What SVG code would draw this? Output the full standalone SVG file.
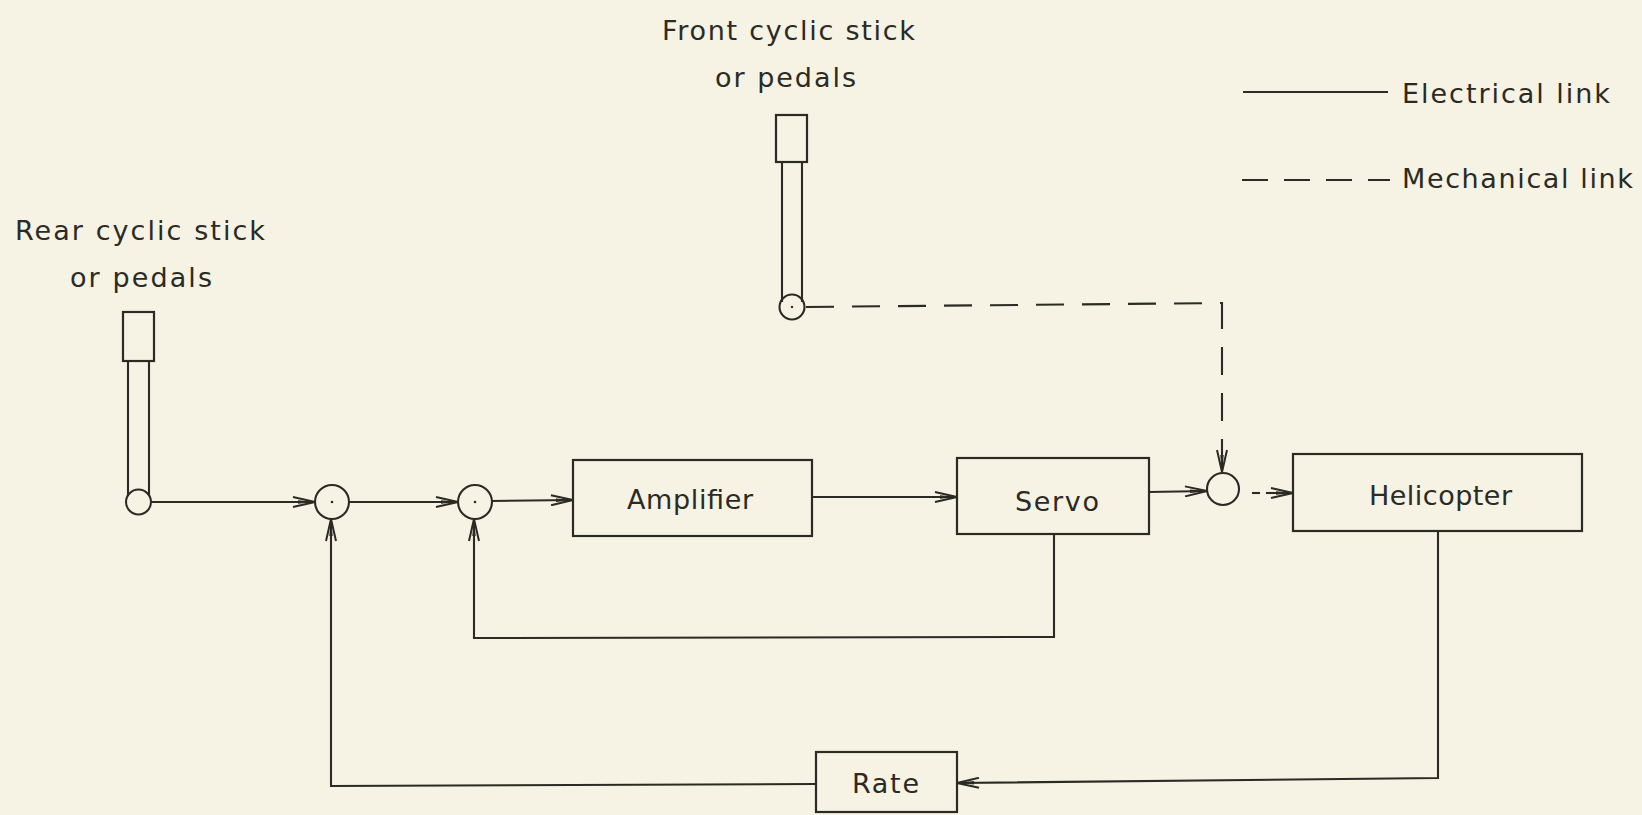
<svg xmlns="http://www.w3.org/2000/svg" width="1642" height="815" viewBox="0 0 1642 815">
<defs>
<style>
.ln{stroke:#2b2a24;stroke-width:2.1;fill:none}
.dash{stroke-dasharray:28 18}
.box{fill:none;stroke:#2b2a24;stroke-width:2.2}
.dot{fill:#2b2a24}
text{font-family:"DejaVu Sans","Liberation Sans",Arial,sans-serif;font-size:27px;fill:#2b2a24}
</style>
<marker id="arr" viewBox="0 0 24 12" refX="23" refY="6" markerWidth="24" markerHeight="12" orient="auto" markerUnits="userSpaceOnUse">
<path d="M1,1 L23,6 L1,11" fill="none" stroke="#2b2a24" stroke-width="2"/>
<path d="M6,4.3 L23,6 L6,7.7 Z" fill="#2b2a24"/>
</marker>
</defs>
<rect width="1642" height="815" fill="#f6f3e4"/>

<g id="legend">
<line class="ln" x1="1243" y1="92" x2="1388" y2="92"/>
<text x="1402" y="103" textLength="208" lengthAdjust="spacing">Electrical link</text>
<line class="ln" x1="1242" y1="180" x2="1390" y2="180" stroke-dasharray="26 16"/>
<text x="1402" y="188" textLength="231" lengthAdjust="spacing">Mechanical link</text>
</g>

<g id="rear-stick">
<text x="15" y="240" textLength="250" lengthAdjust="spacing">Rear cyclic stick</text>
<text x="70" y="287" textLength="142" lengthAdjust="spacing">or pedals</text>
<rect class="box" x="123" y="312" width="31" height="49"/>
<line class="ln" x1="128" y1="361" x2="128" y2="496"/>
<line class="ln" x1="149" y1="361" x2="149" y2="496"/>
<circle class="ln" cx="138.5" cy="502" r="12.5" fill="#f6f3e4"/>
</g>

<g id="front-stick">
<text x="662" y="40" textLength="253" lengthAdjust="spacing">Front cyclic stick</text>
<text x="715" y="87" textLength="141" lengthAdjust="spacing">or pedals</text>
<rect class="box" x="776" y="115" width="31" height="47"/>
<line class="ln" x1="782" y1="162" x2="782" y2="302"/>
<line class="ln" x1="802" y1="162" x2="802" y2="302"/>
<circle class="ln" cx="792" cy="307" r="12.5" fill="#f6f3e4"/>
<circle class="dot" cx="792" cy="307" r="1.2"/>
</g>

<g id="sum1">
<circle class="ln" cx="332" cy="502" r="17"/>
<circle class="dot" cx="332" cy="502" r="1.3"/>
</g>
<g id="sum2">
<circle class="ln" cx="475" cy="502" r="17"/>
<circle class="dot" cx="475" cy="502" r="1.3"/>
</g>
<g id="sum3">
<circle class="ln" cx="1223" cy="489" r="16"/>
</g>

<g id="amplifier">
<rect class="box" x="573" y="460" width="239" height="76"/>
<text x="627" y="509" textLength="126" lengthAdjust="spacing">Amplifier</text>
</g>
<g id="servo">
<rect class="box" x="957" y="458" width="192" height="76"/>
<text x="1015" y="511" textLength="84" lengthAdjust="spacing">Servo</text>
</g>
<g id="helicopter">
<rect class="box" x="1293" y="454" width="289" height="77"/>
<text x="1369" y="505" textLength="143" lengthAdjust="spacing">Helicopter</text>
</g>
<g id="rate">
<rect class="box" x="816" y="752" width="141" height="60"/>
<text x="852" y="793" textLength="67" lengthAdjust="spacing">Rate</text>
</g>

<g id="connectors">
<path class="ln" d="M151,502 L315,502" marker-end="url(#arr)"/>
<path class="ln" d="M349,502 L458,502" marker-end="url(#arr)"/>
<path class="ln" d="M492,501 L573,500" marker-end="url(#arr)"/>
<path class="ln" d="M812,497 L957,497" marker-end="url(#arr)"/>
<path class="ln" d="M1149,492 L1207,491" marker-end="url(#arr)"/>
<path class="ln" d="M1252,493 L1260,493"/>
<path class="ln" d="M1266,493 L1293,493" marker-end="url(#arr)"/>
<path class="ln dash" d="M806,307 L1222,303 L1222,472" marker-end="url(#arr)"/>
<path class="ln" d="M1054,534 L1054,637 L474,638 L474,519" marker-end="url(#arr)"/>
<path class="ln" d="M1438,531 L1438,778 L957,783" marker-end="url(#arr)"/>
<path class="ln" d="M816,784 L331,786 L331,519" marker-end="url(#arr)"/>
</g>
</svg>
